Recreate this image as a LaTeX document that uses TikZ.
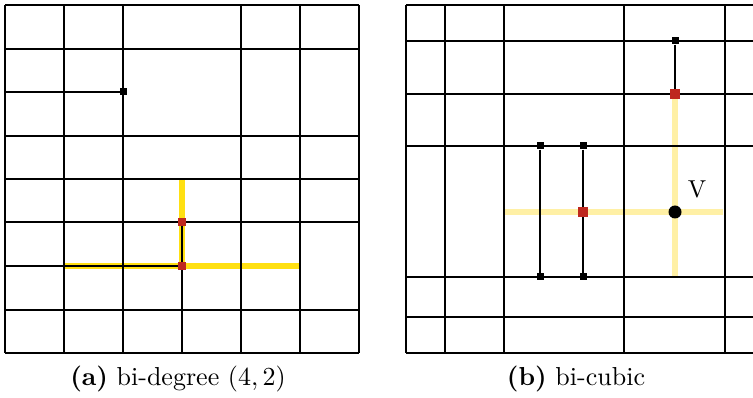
\documentclass[tikz,border=0pt]{standalone}
\usepackage{graphicx}
\begin{document}
\begin{tikzpicture}[x=1pt,y=-1pt,
  gridline/.style={line width=1.4pt,black},
  hiA/.style={line width=6pt,color={rgb,255:red,255;green,224;blue,18}},
  hiB/.style={line width=5.5pt,color={rgb,255:red,255;green,240;blue,165}},
  redsq/.style={fill={rgb,255:red,190;green,40;blue,30},draw=none,minimum size=7.5pt,inner sep=0pt,shape=rectangle},
  bigred/.style={redsq,minimum size=10pt},
  blksq/.style={fill=black,draw=none,minimum size=7pt,inner sep=0pt,shape=rectangle},
  captext/.style={anchor=base,inner sep=0pt}]
\useasboundingbox (0,0) rectangle (753,398);
% ---------- left panel ----------
\draw[hiA] (182,179) -- (182,266);
\draw[hiA] (64,266) -- (300,266);
\foreach \y in {5,49,136,179,222,310,353} \draw[gridline] (5,\y) -- (359,\y);
\draw[gridline] (5,92) -- (123,92);
\draw[gridline] (5,266) -- (182,266);
\foreach \x in {5,64,123,241,300,359} \draw[gridline] (\x,5) -- (\x,353);
\draw[gridline] (182,222) -- (182,353);
\node[blksq] (a1) at (123,92) {};
\node[redsq] (a2) at (182,222) {};
\node[redsq] (a3) at (182,266) {};
\node[captext] (capa) at (178,385) {\scalebox{2.6}{\textbf{(a)} bi-degree $(4,2)$}};
% ---------- right panel ----------
\draw[hiB] (504,212) -- (723,212);
\draw[hiB] (675,94) -- (675,277);
\foreach \y in {5,41,94,146,277,317,353} \draw[gridline] (406,\y) -- (753,\y);
\foreach \x in {406,445,504,624,725} \draw[gridline] (\x,5) -- (\x,353);
\node[blksq] (b1) at (540,146) {};
\node[blksq] (b2) at (540,277) {};
\node[blksq] (b3) at (583,146) {};
\node[blksq] (b4) at (583,277) {};
\node[blksq] (b5) at (675,41) {};
\node[bigred] (b6) at (583,212) {};
\node[bigred] (b7) at (675,94) {};
\draw[gridline] (b1) -- (b2);
\draw[gridline] (b3) -- (b6) -- (b4);
\draw[gridline] (b5) -- (b7);
\node[circle,fill=black,minimum size=13pt,inner sep=0pt] (v) at (675,212) {};
\node[captext] (vl) at (697,198) {\scalebox{2.45}{V}};
\node[captext] (capb) at (576,385) {\scalebox{2.6}{\textbf{(b)} bi-cubic}};
\end{tikzpicture}
\end{document}
